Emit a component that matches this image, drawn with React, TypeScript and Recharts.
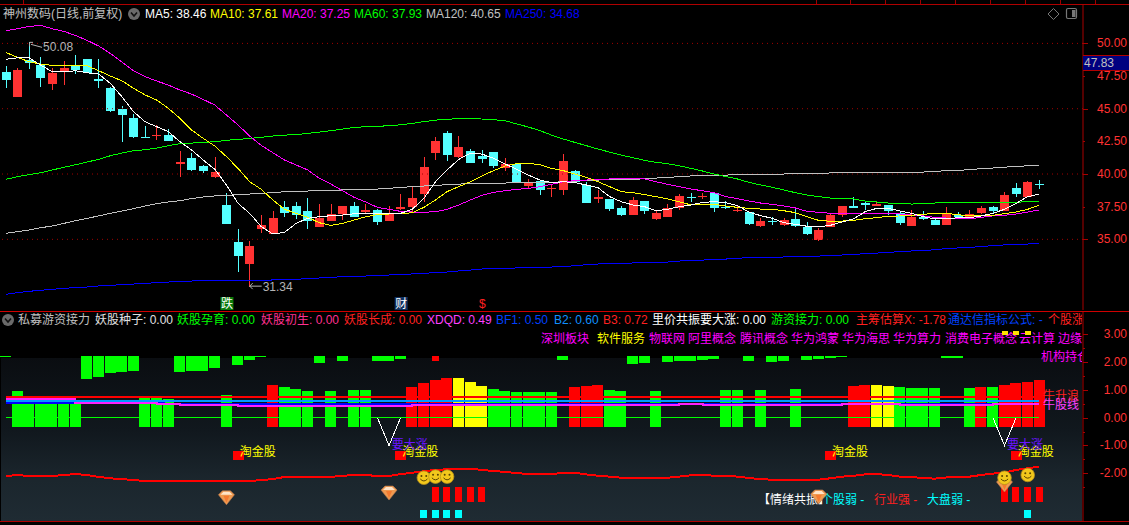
import { Bar, ComposedChart, Line, ReferenceDot, ReferenceLine, XAxis, YAxis } from 'recharts';

// candles
const opens = [47.81,45.89,48.72,48.34,46.89,47.81,48.37,48.80,47.27,46.58,44.97,44.29,42.86,42.91,42.98,40.77,41.22,40.61,39.77,37.63,34.79,33.11,35.79,35.41,37.47,37.55,37.17,35.94,36.40,36.94,37.55,37.09,37.24,36.40,37.32,37.47,38.47,41.61,43.14,41.30,41.76,41.38,41.69,40.46,40.77,39.08,39.47,38.85,38.78,40.23,39.13,38.09,38.09,37.40,36.86,37.93,36.56,36.71,37.40,38.24,38.24,38.55,37.47,37.17,37.09,36.02,36.40,36.10,36.56,35.94,34.95,35.94,36.86,37.55,37.78,37.55,37.63,37.01,36.02,36.73,36.48,36.10,36.86,36.63,37.01,37.47,37.17,38.93,38.24,39.23];
const closes = [47.19,47.96,48.47,47.35,47.75,48.11,47.96,47.75,47.12,44.82,44.52,42.86,42.78,42.96,42.52,40.92,40.31,40.21,40.15,36.17,33.72,34.49,36.10,36.63,37.01,36.86,36.40,36.63,36.94,37.55,36.71,37.24,36.33,37.01,37.47,38.16,40.53,42.53,41.45,42.07,40.84,41.15,40.61,40.77,39.31,39.31,38.78,38.93,41.00,39.39,37.78,38.24,37.32,36.86,38.01,37.17,37.01,37.40,38.32,38.16,38.32,37.40,37.40,37.24,36.17,36.40,36.33,36.48,36.02,35.41,35.72,36.86,37.55,37.40,37.63,37.70,37.17,36.25,36.71,36.56,36.10,36.94,36.71,36.94,37.40,37.17,38.39,38.47,39.39,39.16];
const highs = [48.27,48.11,50.08,48.93,48.11,48.65,49.11,48.80,48.80,46.63,45.20,44.59,43.67,43.72,43.44,41.79,41.58,40.71,41.33,38.52,35.79,34.87,36.86,37.17,37.93,37.86,38.16,37.70,37.70,37.55,37.86,37.70,37.32,37.55,38.47,38.98,41.30,42.83,43.29,42.91,41.91,41.84,41.69,41.22,40.77,39.62,39.54,39.23,41.53,40.31,39.39,38.78,38.09,37.55,38.24,37.93,37.24,37.70,38.47,38.55,38.55,38.55,37.93,37.55,37.09,36.63,36.71,36.63,37.32,36.33,35.87,36.94,37.55,38.24,37.93,37.93,37.63,37.17,37.24,37.17,36.63,37.47,37.09,37.24,37.55,37.55,38.62,39.31,39.47,39.54];
const lows = [46.61,45.89,48.06,46.66,46.45,46.84,47.68,47.70,46.61,44.74,42.42,42.78,42.78,42.60,42.52,39.80,40.25,40.10,39.69,36.17,32.50,31.34,35.48,35.41,36.71,36.56,35.79,35.94,36.40,36.48,36.71,37.01,36.10,36.40,37.24,37.09,37.86,41.07,40.99,41.22,40.84,40.84,40.46,40.23,39.31,38.93,38.39,38.24,38.39,39.31,37.78,37.78,37.17,36.79,36.86,36.94,36.48,36.71,37.24,37.86,38.09,37.09,37.32,37.09,36.10,35.94,36.10,36.02,35.94,35.33,34.87,35.94,36.71,37.40,37.24,37.55,36.86,36.10,36.02,36.48,36.10,36.10,36.63,36.56,36.94,36.94,37.17,38.24,38.24,38.85];

// moving averages
const ma5 = [48.78,48.90,48.90,48.34,47.83,47.81,47.91,47.75,47.65,46.94,45.92,44.77,44.00,43.62,43.24,42.47,41.84,41.07,40.36,39.16,37.75,36.99,35.97,35.41,35.53,36.22,36.61,36.73,36.81,36.86,36.96,37.01,36.99,36.99,36.99,37.30,38.14,39.41,40.31,41.12,41.58,41.53,41.20,40.77,40.36,39.92,39.54,39.34,39.41,39.34,39.16,38.95,38.27,37.88,37.63,37.50,37.19,37.30,37.50,37.63,37.83,37.88,37.81,37.58,37.09,36.81,36.61,36.27,36.15,36.00,35.97,36.07,36.33,36.56,37.12,37.37,37.37,37.17,36.99,36.73,36.56,36.56,36.66,36.66,36.79,36.99,37.30,37.75,38.27,38.46];
const ma10 = [49.31,48.93,48.60,48.42,48.32,48.32,48.34,48.29,47.91,47.50,47.14,46.56,46.05,45.66,45.03,44.26,43.37,42.73,42.14,41.33,40.43,39.41,38.83,38.01,37.30,36.99,36.68,36.27,36.07,36.22,36.48,36.73,36.89,36.94,36.96,37.04,37.45,38.01,38.65,39.03,39.41,39.85,40.26,40.61,40.79,40.82,40.71,40.43,40.26,40.00,39.75,39.41,39.03,38.65,38.57,38.42,38.27,38.09,37.88,37.63,37.65,37.68,37.55,37.45,37.37,37.32,37.30,37.19,37.04,36.73,36.45,36.38,36.40,36.45,36.58,36.66,36.76,36.79,36.84,36.91,36.99,36.99,36.89,36.79,36.81,36.84,36.96,37.09,37.30,37.61];
const ma20 = [50.97,51.12,51.30,51.38,51.12,50.92,50.61,50.23,49.80,49.23,48.57,47.91,47.45,47.12,46.81,46.43,46.12,45.71,45.28,44.52,43.75,42.91,42.19,41.63,41.07,40.69,40.31,39.67,39.23,38.72,38.21,37.86,37.45,37.30,37.14,37.09,37.07,37.12,37.30,37.63,38.01,38.37,38.60,38.72,38.83,38.90,39.03,39.21,39.41,39.49,39.54,39.57,39.62,39.64,39.64,39.62,39.41,39.21,39.03,38.85,38.72,38.57,38.27,38.12,37.93,37.78,37.68,37.55,37.40,37.14,37.07,36.99,36.99,36.99,36.99,36.99,36.99,36.94,36.86,36.79,36.68,36.63,36.61,36.58,36.68,36.79,36.84,36.94,37.09,37.25];
const ma60 = [39.59,39.80,39.95,40.10,40.31,40.51,40.71,40.92,41.12,41.40,41.61,41.79,41.86,41.99,42.17,42.32,42.37,42.42,42.47,42.58,42.65,42.73,42.81,42.91,42.98,43.01,43.11,43.21,43.32,43.44,43.57,43.62,43.65,43.70,43.77,43.88,44.01,44.13,44.18,44.26,44.26,44.21,44.16,44.08,43.83,43.60,43.32,42.98,42.68,42.42,42.17,41.91,41.68,41.45,41.25,41.05,40.89,40.79,40.63,40.43,40.23,40.00,39.80,39.62,39.36,39.16,38.98,38.78,38.57,38.39,38.27,38.16,38.16,38.09,37.93,37.86,37.78,37.76,37.70,37.73,37.78,37.81,37.81,37.81,37.81,37.81,37.81,37.84,37.88,37.93];
const ma120 = [35.46,35.59,35.71,35.89,36.02,36.22,36.43,36.61,36.79,36.99,37.17,37.35,37.55,37.73,37.86,37.96,38.12,38.24,38.32,38.37,38.42,38.47,38.52,38.57,38.65,38.67,38.70,38.72,38.75,38.78,38.80,38.83,38.85,38.90,38.98,39.03,39.08,39.13,39.18,39.23,39.26,39.29,39.29,39.31,39.34,39.34,39.36,39.36,39.41,39.46,39.49,39.54,39.57,39.59,39.59,39.64,39.69,39.74,39.80,39.85,39.90,39.92,39.92,39.95,39.97,39.97,40.00,40.00,40.03,40.05,40.05,40.08,40.10,40.13,40.13,40.13,40.15,40.15,40.15,40.15,40.20,40.26,40.28,40.33,40.41,40.46,40.53,40.56,40.64,40.65];
const ma250 = [30.79,30.92,31.02,31.10,31.17,31.25,31.30,31.35,31.43,31.48,31.53,31.58,31.63,31.68,31.73,31.78,31.81,31.84,31.86,31.86,31.86,31.86,31.86,31.89,31.91,31.94,31.99,32.04,32.09,32.14,32.17,32.19,32.24,32.27,32.30,32.35,32.40,32.45,32.50,32.58,32.65,32.73,32.75,32.78,32.81,32.83,32.86,32.88,32.91,32.98,33.06,33.11,33.16,33.16,33.19,33.21,33.24,33.26,33.34,33.39,33.41,33.47,33.49,33.55,33.60,33.60,33.62,33.65,33.65,33.67,33.72,33.75,33.80,33.85,33.90,33.95,34.00,34.06,34.11,34.13,34.21,34.29,34.34,34.39,34.44,34.52,34.57,34.62,34.64,34.68];

// indicator panel
const lowerBase = -0.32;
const lowerTops = [null,.96,.71,.65,.65,.65,.56,null,null,null,null,null,.71,.71,.67,null,null,null,null,.82,null,null,null,1.18,1.10,1.03,.96,null,.96,null,1.00,1.00,null,null,null,1.10,1.25,1.36,1.43,1.43,1.28,1.14,1.03,.96,.92,.92,.92,.92,null,1.10,1.14,1.18,1.00,.96,null,null,.96,null,null,null,null,null,1.00,1.00,null,1.00,null,null,1.03,null,null,null,null,1.14,1.18,1.18,1.14,1.10,1.07,1.07,1.07,null,null,1.07,1.10,1.10,1.18,1.25,1.28,1.36];
const lowerKinds = 'ggggggggggggggggggggggg' + 'r' + 'ggggggggggg' + 'rrrr' + 'yyy' + 'ggggggg' + 'rrr' + 'ggggggggggggggggggggg' + 'rr' + 'yy' + 'ggggggg' + 'r' + 'g' + 'rrrr';
const hangTop = 2.22;
const hangBottoms = [2.18,null,null,null,null,null,null,1.39,1.46,1.61,1.64,1.68,null,null,null,1.64,1.68,1.68,1.79,null,1.90,2.08,2.18,null,null,null,null,1.97,null,2.04,null,null,2.04,2.04,2.11,null,null,2.04,null,null,null,null,null,null,null,null,null,null,2.08,null,null,null,null,null,1.93,1.97,null,2.00,2.04,2.04,2.08,2.11,null,null,2.04,null,2.00,2.04,null,2.08,2.11,2.15,2.18,null,null,null,null,null,null,null,null,2.15,2.15,null,null,null,null,null,null,null];
const hangRed = [37];
const xLine = [-2.10,-2.06,-2.10,-2.10,-2.10,-2.06,-2.03,-2.06,-2.13,-2.18,-2.21,-2.24,-2.28,-2.28,-2.28,-2.28,-2.28,-2.28,-2.28,-2.28,-2.28,-2.28,-2.24,-2.21,-2.13,-2.13,-2.13,-2.13,-2.13,-2.09,-2.06,-2.06,-2.10,-2.10,-2.03,-1.98,-1.93,-1.87,-1.86,-1.85,-1.83,-1.88,-1.92,-1.95,-1.99,-2.03,-2.03,-2.03,-1.98,-1.98,-2.04,-2.09,-2.12,-2.16,-2.16,-2.16,-2.16,-2.16,-2.12,-2.07,-2.05,-2.09,-2.09,-2.12,-2.17,-2.21,-2.23,-2.23,-2.23,-2.23,-2.23,-2.18,-2.12,-2.09,-2.04,-2.03,-2.06,-2.12,-2.13,-2.18,-2.19,-2.15,-2.12,-2.12,-2.06,-2.01,-1.97,-1.88,-1.82,-1.76];
const xdqd = [.67,.67,.67,.67,.67,.67,.54,.54,.54,.54,.54,.54,.54,.49,.49,.46,.46,.46,.46,.46,.43,.43,.43,.43,.43,.43,.43,.43,.43,.43,.43,.43,.43,.43,.43,.46,.46,.46,.46,.46,.46,.46,.46,.46,.46,.46,.46,.46,.47,.47,.47,.47,.47,.47,.47,.47,.47,.47,.49,.49,.47,.47,.47,.47,.47,.47,.47,.47,.47,.47,.47,.47,.49,.49,.49,.49,.49,.47,.47,.47,.47,.47,.47,.47,.47,.49,.49,.49,.49,.49];
const bf1 = [.54,.54,.54,.54,.54,.54,.54,.54,.54,.54,.54,.54,.54,.54];
const b2Level = 0.6;
const b3Level = 0.75;
const vLine = { 32: 0, 33: -1, 34: 0, 85: 0, 86: -1, 87: 0 } as Record<number, number>;

const markIdx = [20, 34, 71, 87];
const markRange = [-1.52, -1.2];
const blockIdx = [37, 38, 39, 40, 41, 86, 87, 88, 89];
const blockRange = [-3.03, -2.49];
const cyanIdx = [36, 37, 38, 39, 88];
const cyanRange = [-3.6, -3.32];
const goldIdx = [86, 87, 88];
const goldRange = [2.97, 3.12];

const gems = [[19, -2.88], [33, -2.71], [70, -2.85], [86, -2.42]];
const smiles = [[36, -2.16], [37, -2.12], [38, -2.12], [86, -2.16], [88, -2.06]];
const bigRise = [[34, -0.98], [87, -0.98]];

const priceTicks = [35, 37.5, 40, 42.5, 45, 47.5, 50];
const gridLevels = [35, 40, 45, 50];
const lowerTicks = [-2.5, -2, -1.5, -1, -0.5, 0, 0.5, 1, 1.5, 2, 2.5, 3];
const topMarks = [23, 816, 850, 885, 920, 955, 990, 1025, 1060, 1095];

const priceLegend = [
  ['MA5: 38.46', 145, '#ffffff'], ['MA10: 37.61', 210, '#ffff00'], ['MA20: 37.25', 282, '#ff00ff'],
  ['MA60: 37.93', 354, '#00ff00'], ['MA120: 40.65', 426, '#c0c0c0'], ['MA250: 34.68', 505, '#0000ff'],
] as const;
const lowerLegend = [
  ['私募游资接力', 18, '#c0c0c0'], ['妖股种子: 0.00', 95, '#e0e0e0'], ['妖股孕育: 0.00', 177, '#00ff00'],
  ['妖股初生: 0.00', 261, '#ff3090'], ['妖股长成: 0.00', 344, '#ff2020'], ['XDQD: 0.49', 427, '#ff40ff'],
  ['BF1: 0.50', 496, '#0040ff'], ['B2: 0.60', 554, '#1090ff'], ['B3: 0.72', 603, '#ff2020'],
  ['里价共振要大涨: 0.00', 652, '#ffffff'], ['游资接力: 0.00', 771, '#00ff00'], ['主筹估算X: -1.78', 856, '#ff2020'],
  ['通达信指标公式: -', 948, '#0040ff'], ['个股涨', 1048, '#ff2020'],
] as const;
const conceptRow = [
  ['深圳板块', 541, '#ff00ff'], ['软件服务', 597, '#ffff00'], ['物联网', 649, '#ff00ff'], ['阿里概念', 688, '#ff00ff'],
  ['腾讯概念', 740, '#ff00ff'], ['华为鸿蒙', 791, '#ff00ff'], ['华为海思', 842, '#ff00ff'], ['华为算力', 893, '#ff00ff'],
  ['消费电子概念', 945, '#ff00ff'], ['云计算', 1019, '#ff00ff'], ['边缘', 1058, '#ff00ff'],
] as const;
const moodRow = [
  ['【情绪共振】', 758, '#ffffff'], ['个股弱 -', 821, '#00ffff'], ['行业强 -', 874, '#ff2020'], ['大盘弱 -', 927, '#00ffff'],
] as const;

const FONT = '"Liberation Sans", "Noto Sans CJK SC", sans-serif';
const RED = '#ff3232';
const CYAN = '#54ffff';
const AXIS = '#a80000';
const KIND_COLOR: Record<string, string> = { g: '#00ff00', r: '#ff0000', y: '#ffff00' };
const X_DOMAIN: [number, number] = [-0.5, 92.76];

const priceRows = opens.map((open, i) => ({
  i, open, close: closes[i], high: highs[i], low: lows[i],
  ma5: ma5[i], ma10: ma10[i], ma20: ma20[i], ma60: ma60[i], ma120: ma120[i], ma250: ma250[i],
}));

const lowerRows = opens.map((_, i) => ({
  i,
  lower: lowerTops[i] == null ? null : [lowerBase, lowerTops[i]],
  kind: lowerKinds[i],
  hang: hangBottoms[i] == null ? null : [hangBottoms[i], hangTop],
  mark: markIdx.includes(i) ? markRange : null,
  block: blockIdx.includes(i) ? blockRange : null,
  cyan: cyanIdx.includes(i) ? cyanRange : null,
  gold: goldIdx.includes(i) ? goldRange : null,
  x: xLine[i],
  xdqd: xdqd[i],
  bf1: bf1[i] ?? 0.5,
  b2: b2Level,
  b3: b3Level,
  zero: 0,
  v: vLine[i] ?? null,
}));

function Candle(props: any) {
  const { x, y, width, height, payload } = props;
  if (!payload || !Number.isFinite(y)) return null;
  const top = Math.min(y, y + height);
  const scale = Math.abs(height) / (payload.high - payload.low);
  const at = (p: number) => top + (payload.high - p) * scale;
  const color = payload.close >= payload.open ? RED : CYAN;
  const cx = Math.round(x + width / 2);
  const bodyTop = at(Math.max(payload.open, payload.close));
  const bodyH = Math.max(1, at(Math.min(payload.open, payload.close)) - bodyTop);
  return (
    <g shapeRendering="crispEdges">
      <rect x={cx} y={top} width={1} height={Math.abs(height)} fill={color} />
      <rect x={cx - 4} y={bodyTop} width={9} height={bodyH} fill={color} />
    </g>
  );
}

// plain block centred on the slot, for the indicator bars
function block(fill: (p: any) => string, w: (p: any) => number) {
  return (props: any) => {
    const { x, y, width, height, payload } = props;
    if (!payload || !Number.isFinite(y) || !height) return null;
    const bw = w(payload);
    return (
      <rect
        x={Math.round(x + width / 2 - bw / 2)}
        y={Math.min(y, y + height)}
        width={bw}
        height={Math.abs(height)}
        fill={fill(payload)}
        shapeRendering="crispEdges"
      />
    );
  };
}

function MarkBlock(props: any) {
  const { x, y, width, height, payload } = props;
  if (!payload || !Number.isFinite(y) || !height) return null;
  const cx = x + width / 2;
  const top = Math.min(y, y + height);
  return (
    <g>
      <rect x={Math.round(cx - 5)} y={top} width={11} height={Math.abs(height)} fill="#ff0000" shapeRendering="crispEdges" />
      <text x={cx + 2} y={top + 5} fontSize={12} fontFamily={FONT} fill="#ffff00">淘金股</text>
    </g>
  );
}

function Gem({ cx, cy }: any) {
  return (
    <g transform={`translate(${cx},${cy})`}>
      <polygon points="-8,-3 -4,-7 4,-7 8,-3 0,7" fill="#f09a50" stroke="#b87a50" strokeWidth={0.6} />
      <polygon points="-6,-3 -3,-6 3,-6 6,-3" fill="#ffe4c8" />
      <polygon points="-3,-2 3,-2 0,5" fill="#f57a30" />
    </g>
  );
}

function Smile({ cx, cy }: any) {
  return (
    <g transform={`translate(${cx},${cy})`}>
      <circle r={6.8} fill="#f2c81c" stroke="#b8901a" strokeWidth={0.8} />
      <circle cx={-2.4} cy={-1.8} r={1} fill="#5a4400" />
      <circle cx={2.4} cy={-1.8} r={1} fill="#5a4400" />
      <path d="M-3.6 1.2 Q0 5.2 3.6 1.2" fill="none" stroke="#5a4400" strokeWidth={1} />
    </g>
  );
}

function RiseLabel({ cx, cy }: any) {
  return <text x={cx - 9} y={cy + 4} fontSize={12} fontFamily={FONT} fill="#6a14ff">要大涨</text>;
}

function HighFlag({ cx, cy }: any) {
  return (
    <g>
      <path d={`M${cx + 0.5} ${cy + 4} V${cy} H${cx + 4} M${cx + 2} ${cy + 2} L${cx + 13} ${cy + 5}`} fill="none" stroke="#b4b4b4" />
      <text x={cx + 14} y={cy + 9} fontSize={12} fontFamily={FONT} fill="#b4b4b4">50.08</text>
    </g>
  );
}

function LowFlag({ cx, cy }: any) {
  return (
    <g>
      <path d={`M${cx} ${cy - 1} H${cx + 12} M${cx} ${cy - 1} l3 -3 M${cx} ${cy - 1} l3 3`} fill="none" stroke="#b4b4b4" />
      <text x={cx + 13} y={cy + 4} fontSize={12} fontFamily={FONT} fill="#b4b4b4">31.34</text>
    </g>
  );
}

function Tag({ cx, text, bg, color }: any) {
  return (
    <g>
      {bg && <rect x={cx - 6} y={297} width={13} height={13} fill={bg} />}
      <text x={cx + 0.5} y={308} textAnchor="middle" fontSize={12} fontFamily={FONT} fill={color}>{text}</text>
    </g>
  );
}

function AxisTick({ x, y, payload, labelled }: any) {
  const major = labelled(payload.value);
  const long = Number.isInteger(payload.value / 5) || (payload.value < 10 && Number.isInteger(payload.value));
  return (
    <g>
      <rect x={x} y={Math.round(y)} width={long ? 5 : 2} height={1} fill={AXIS} shapeRendering="crispEdges" />
      {major && (
        <text x={x + 44} y={y + 4} textAnchor="end" fontSize={12} fontFamily={FONT} fill={RED}>
          {payload.value.toFixed(2)}
        </text>
      )}
    </g>
  );
}

function Label({ text, x, y, color }: { text: string; x: number; y: number; color: string }) {
  return (
    <div style={{ position: 'absolute', left: x, top: y - 8, lineHeight: '16px', fontSize: 12, color, whiteSpace: 'nowrap' }}>
      {text}
    </div>
  );
}

function ChevronIcon({ x, y }: { x: number; y: number }) {
  return (
    <svg style={{ position: 'absolute', left: x - 7, top: y - 7 }} width={14} height={14}>
      <circle cx={7} cy={7} r={6} fill="#6a6a6a" />
      <path d="M4 5.5 L7 9 L10 5.5" fill="none" stroke="#111" strokeWidth={1.6} />
    </svg>
  );
}

const hideAxis = (id: string) => (
  <XAxis key={id} xAxisId={id} type="number" dataKey="i" domain={X_DOMAIN} allowDataOverflow hide />
);

export default function App() {
  return (
    <div style={{ position: 'absolute', left: 0, top: 0, width: 1129, height: 525, overflow: 'hidden', background: '#000', fontFamily: FONT }}>
      <style>{'body{margin:0;background:#000}.recharts-line path{shape-rendering:crispEdges}'}</style>

      {/* indicator panel background */}
      <div style={{ position: 'absolute', left: 1, top: 358, width: 1081, height: 163, background: 'linear-gradient(#0a0d11 0%, #11181e 45%, #1b262d 75%, #1f2b33 100%)' }} />

      {/* text rows, clipped at the axis */}
      <div style={{ position: 'absolute', left: 0, top: 0, width: 1082, height: 525, overflow: 'hidden' }}>
        <Label text="神州数码(日线,前复权)" x={3} y={14} color="#c0c0c0" />
        {priceLegend.map(([text, x, color]) => <Label key={text} text={text} x={x} y={14} color={color} />)}
        {lowerLegend.map(([text, x, color]) => <Label key={text} text={text} x={x} y={320} color={color} />)}
        {conceptRow.map(([text, x, color]) => <Label key={text} text={text} x={x} y={339} color={color} />)}
        <Label text="机构持仓" x={1041} y={357} color="#ff00ff" />
        {moodRow.map(([text, x, color]) => <Label key={text} text={text} x={x} y={500} color={color} />)}
      </div>

      {/* price panel */}
      <div style={{ position: 'absolute', left: 0, top: 0 }}>
        <ComposedChart width={1129} height={311} data={priceRows} margin={{ top: 5, right: 0, bottom: 1, left: 0 }}>
          <XAxis type="number" dataKey="i" domain={X_DOMAIN} allowDataOverflow hide />
          <YAxis
            orientation="right"
            width={46}
            type="number"
            domain={[29.59, 52.94]}
            allowDataOverflow
            ticks={priceTicks}
            interval={0}
            axisLine={{ stroke: AXIS }}
            tickLine={false}
            tickSize={0}
            tickMargin={0}
            tick={(p: any) => <AxisTick {...p} labelled={() => true} />}
          />
          {gridLevels.map((level) => (
            <ReferenceLine key={level} y={level} stroke="#a00000" strokeDasharray="1 4" />
          ))}
          <Bar dataKey={(d: any) => [d.low, d.high]} barSize={9} shape={Candle} isAnimationActive={false} />
          <Line dataKey="ma250" stroke="#0000ff" strokeWidth={1} dot={false} isAnimationActive={false} />
          <Line dataKey="ma120" stroke="#c0c0c0" strokeWidth={1} dot={false} isAnimationActive={false} />
          <Line dataKey="ma60" stroke="#00ff00" strokeWidth={1} dot={false} isAnimationActive={false} />
          <Line dataKey="ma20" stroke="#ff00ff" strokeWidth={1} dot={false} isAnimationActive={false} />
          <Line dataKey="ma10" stroke="#ffff00" strokeWidth={1} dot={false} isAnimationActive={false} />
          <Line dataKey="ma5" stroke="#ffffff" strokeWidth={1} dot={false} isAnimationActive={false} />
          <ReferenceDot x={2} y={50.08} r={0} shape={HighFlag} />
          <ReferenceDot x={21} y={31.34} r={0} shape={LowFlag} />
          <ReferenceDot x={19} y={31} r={0} shape={(p: any) => <Tag {...p} text="跌" bg="#0a7a0a" color="#ffffff" />} />
          <ReferenceDot x={34} y={31} r={0} shape={(p: any) => <Tag {...p} text="财" bg="#103060" color="#ffffff" />} />
          <ReferenceDot x={41} y={31} r={0} shape={(p: any) => <Tag {...p} text="$" color="#ff2020" />} />
        </ComposedChart>
      </div>

      {/* indicator panel */}
      <div style={{ position: 'absolute', left: 0, top: 0 }}>
        <ComposedChart width={1129} height={525} data={lowerRows} margin={{ top: 312, right: 0, bottom: 4, left: 0 }}>
          <XAxis type="number" dataKey="i" domain={X_DOMAIN} allowDataOverflow hide />
          {['hang', 'mark', 'block', 'cyan', 'gold'].map(hideAxis)}
          <YAxis
            orientation="right"
            width={46}
            type="number"
            domain={[-3.716, 3.802]}
            allowDataOverflow
            ticks={lowerTicks}
            interval={0}
            axisLine={{ stroke: AXIS }}
            tickLine={false}
            tickSize={0}
            tickMargin={0}
            tick={(p: any) => <AxisTick {...p} labelled={(v: number) => Number.isInteger(v)} />}
          />
          <Bar dataKey="lower" barSize={11} isAnimationActive={false}
            shape={block((p) => KIND_COLOR[p.kind], () => 11)} />
          <Bar xAxisId="hang" dataKey="hang" barSize={11} isAnimationActive={false}
            shape={block((p) => (hangRed.includes(p.i) ? '#ff0000' : '#00ff00'), (p) => (hangRed.includes(p.i) ? 7 : 11))} />
          <Bar xAxisId="gold" dataKey="gold" barSize={6} isAnimationActive={false}
            shape={block(() => '#ffe000', () => 6)} />
          <Line dataKey="zero" stroke="#00ff00" strokeWidth={1} dot={false} isAnimationActive={false} />
          <Line dataKey="bf1" stroke="#0000ff" strokeWidth={2} dot={false} isAnimationActive={false} />
          <Line dataKey="xdqd" type="stepAfter" stroke="#ff20ff" strokeWidth={2} dot={false} isAnimationActive={false} />
          <Line dataKey="b2" stroke="#0099ff" strokeWidth={2} dot={false} isAnimationActive={false} />
          <Line dataKey="b3" stroke="#ff0000" strokeWidth={2} dot={false} isAnimationActive={false} />
          <Line dataKey="v" stroke="#ffffff" strokeWidth={1} dot={false} isAnimationActive={false} />
          <Line dataKey="x" stroke="#ff0000" strokeWidth={2} dot={false} isAnimationActive={false} />
          {bigRise.map(([i, v]) => (
            <ReferenceDot key={i} x={i} y={v} r={0} shape={RiseLabel} />
          ))}
          <Bar xAxisId="mark" dataKey="mark" barSize={11} isAnimationActive={false} shape={MarkBlock} />
          {gems.map(([i, v]) => (
            <ReferenceDot key={i} x={i} y={v} r={0} shape={Gem} />
          ))}
          {smiles.map(([i, v]) => (
            <ReferenceDot key={i} x={i} y={v} r={0} shape={Smile} />
          ))}
          <Bar xAxisId="block" dataKey="block" barSize={7} isAnimationActive={false}
            shape={block(() => '#ff0000', () => 7)} />
          <Bar xAxisId="cyan" dataKey="cyan" barSize={7} isAnimationActive={false}
            shape={block(() => '#00ffff', () => 7)} />
        </ComposedChart>
      </div>

      <Label text="牛升浪" x={1043} y={396} color="#ff2020" />
      <Label text="牛股线" x={1043} y={405} color="#ff40ff" />

      {/* frame */}
      <div style={{ position: 'absolute', left: 0, top: 4, width: 1129, height: 1, background: '#b00000' }} />
      <div style={{ position: 'absolute', left: 0, top: 311, width: 1129, height: 1, background: '#d00000' }} />
      <div style={{ position: 'absolute', left: 0, top: 521, width: 1129, height: 1, background: '#b00000' }} />
      {topMarks.map((x) => (
        <div key={x} style={{ position: 'absolute', left: x, top: 0, width: 1, height: 4, background: '#a00000' }} />
      ))}
      <ChevronIcon x={134} y={14} />
      <ChevronIcon x={8} y={320} />
      <svg style={{ position: 'absolute', left: 1046, top: 7 }} width={32} height={14}>
        <path d="M7.5 1.5 L13 7 L7.5 12.5 L2 7 Z" fill="none" stroke="#777" />
        <rect x={20.5} y={1.5} width={10} height={10} rx={1.5} fill="none" stroke="#777" strokeWidth={1.2} />
        <rect x={26} y={3} width={3.5} height={7} fill="#777" />
      </svg>
      <div style={{ position: 'absolute', left: 1083, top: 55, width: 46, height: 16, boxSizing: 'border-box', background: '#000080', borderTop: '1px solid #b00000', borderBottom: '1px solid #b00000', color: '#c0c0c0', fontSize: 12, lineHeight: '15px', paddingLeft: 1 }}>
        47.83
      </div>
    </div>
  );
}
